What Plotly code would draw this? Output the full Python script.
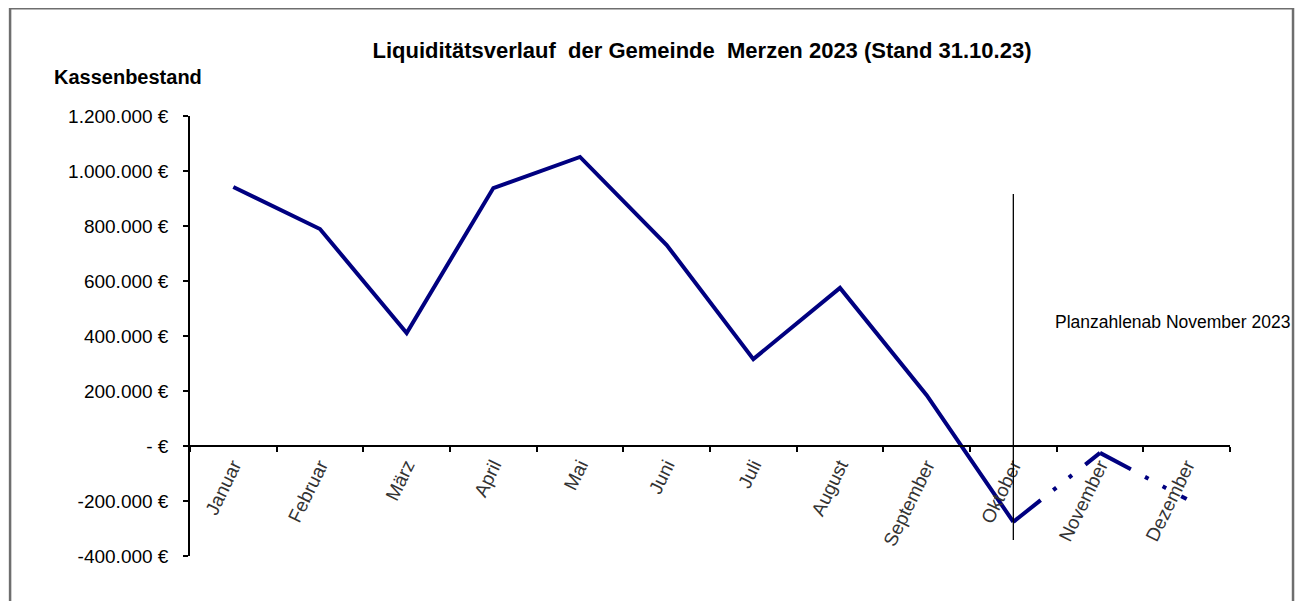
import plotly.graph_objects as go

months = ["Januar", "Februar", "März", "April", "Mai", "Juni", "Juli",
          "August", "September", "Oktober", "November", "Dezember"]
ist_months = months[:10]
ist_values = [942000, 789000, 411000, 938000, 1051000, 731000, 316000,
              575000, 185000, -276000]
plan_months = ["Oktober", "November", "Dezember"]
plan_values = [-276000, -25000, -193000]

y_tickvals = [1200000, 1000000, 800000, 600000, 400000, 200000, 0, -200000, -400000]
y_ticktext = ["1.200.000 €", "1.000.000 €", "800.000 €", "600.000 €", "400.000 €",
              "200.000 €", "- €", "-200.000 €", "-400.000 €"]
y_range = [-400000, 1200000]

marker_month = "Oktober"
marker_span = [916000, -342000]

title_text = "Liquiditätsverlauf \u00a0der Gemeinde \u00a0Merzen 2023 (Stand 31.10.23)"
ytitle_text = "Kassenbestand"
note_text = "Planzahlenab November 2023"

LINE_COLOR = "#000080"
FONT = "Liberation Sans, Arial, sans-serif"
DASH = "35px,16px,4px,16px,4px,17px"

W, H = 1300, 593  # page adds an 8px body margin
fig = go.Figure()
fig.add_trace(go.Scatter(x=ist_months, y=ist_values, mode="lines",
                         line=dict(color=LINE_COLOR, width=4),
                         hoverinfo="x+y", showlegend=False))
# plan segments (dash pattern restarts at each point, like the original)
for i in range(len(plan_months) - 1):
    fig.add_trace(go.Scatter(x=plan_months[i:i + 2], y=plan_values[i:i + 2], mode="lines",
                             line=dict(color=LINE_COLOR, width=4, dash=DASH),
                             showlegend=False))

# vertical marker line at Oktober
fig.add_shape(type="line", xref="x", yref="y",
              x0=marker_month, x1=marker_month, y0=marker_span[0], y1=marker_span[1],
              line=dict(color="#000000", width=1.3))

# outer frame
fig.add_shape(type="rect", xref="paper", yref="paper",
              x0=-0.173, x1=1.0606, y0=-0.2, y1=1.245,
              line=dict(color="#6e6e6e", width=2.5), layer="below")

zero_pos = (0 - y_range[0]) / (y_range[1] - y_range[0])

fig.update_layout(
    width=W, height=H,
    margin=dict(l=182, r=78, t=108, b=45),
    paper_bgcolor="white", plot_bgcolor="white",
    font=dict(family=FONT, size=19, color="#000000"),
    title=dict(text=title_text, xref="container", x=694 / W, xanchor="center",
               yref="container", y=1 - 42 / H, yanchor="middle",
               font=dict(family=FONT, size=22, color="#000000", weight="bold")),
    xaxis=dict(type="category", categoryorder="array", categoryarray=months,
               range=[-0.5, 11.5], anchor="free", position=zero_pos,
               showline=True, linecolor="#000000", linewidth=1.5,
               ticks="outside", tickson="boundaries", ticklen=5, tickwidth=1.5,
               tickcolor="#000000", tickangle=-64, showgrid=False, zeroline=False,
               tickfont=dict(family=FONT, size=19, color="#333333")),
    yaxis=dict(range=y_range, tickvals=y_tickvals, ticktext=y_ticktext,
               showline=True, linecolor="#000000", linewidth=1.5,
               ticks="outside", ticklen=5, tickwidth=1.5, tickcolor="#000000",
               ticklabelstandoff=11,
               showgrid=False, zeroline=False,
               tickfont=dict(family=FONT, size=19, color="#000000")),
    annotations=[
        dict(text=ytitle_text, xref="paper", yref="paper",
             x=(52 - 190) / 1040, xanchor="left", y=(556 - 77) / 440, yanchor="middle",
             showarrow=False, font=dict(family=FONT, size=20, color="#000000", weight="bold")),
        dict(text=note_text, xref="paper", yref="y",
             x=(1053 - 190) / 1040, xanchor="left", y=451000, yanchor="middle",
             showarrow=False, font=dict(family=FONT, size=17.5, color="#000000")),
    ],
)

fig.write_html("out.html")
